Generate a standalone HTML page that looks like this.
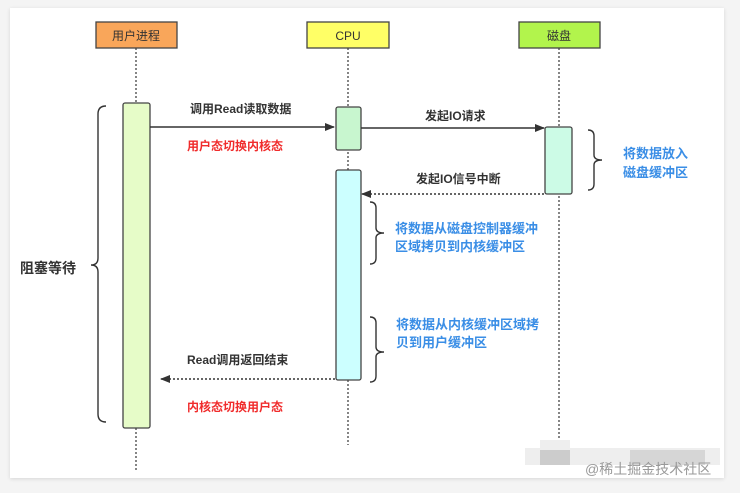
<!DOCTYPE html>
<html><head><meta charset="utf-8"><style>
body{margin:0;width:740px;height:493px;background:#f4f4f4;overflow:hidden;font-family:"Liberation Sans","Noto Sans CJK SC",sans-serif}
.card{position:absolute;left:10px;top:8px;width:714px;height:470px;background:#fff;box-shadow:0 1px 4px rgba(0,0,0,.12)}
</style></head><body>
<div class="card"></div>
<svg width="740" height="493" style="position:absolute;left:0;top:0" font-family="Liberation Sans, Noto Sans CJK SC, sans-serif">
<defs><marker id="a" markerWidth="10" markerHeight="8" refX="9" refY="4" orient="auto" markerUnits="userSpaceOnUse"><path d="M0,0L10,4L0,8z" fill="#333"/></marker></defs>
<g stroke="#444" stroke-width="1.3" stroke-dasharray="2,2">
<line x1="136" y1="48" x2="136" y2="470"/><line x1="348" y1="48" x2="348" y2="445"/><line x1="559" y1="48" x2="559" y2="438"/></g>
<g stroke="#444" stroke-width="1.3">
<rect x="96" y="22" width="81" height="26" fill="#f9a65a"/>
<rect x="307" y="22" width="82" height="26" fill="#ffff66"/>
<rect x="519" y="22" width="81" height="26" fill="#b2f44c"/>
<rect x="123" y="103" width="27" height="325" rx="2" fill="#e6fcc8"/>
<rect x="336" y="107" width="25" height="43" rx="2" fill="#c8f6cf"/>
<rect x="336" y="170" width="25" height="210" rx="2" fill="#ccffff"/>
<rect x="545" y="127" width="27" height="67" rx="2" fill="#ccfbe6"/>
</g>
<g font-size="12" text-anchor="middle" fill="#333"><text x="136" y="40">用户进程</text><text x="348" y="40">CPU</text><text x="559" y="40">磁盘</text></g>
<g stroke="#333" stroke-width="1.4">
<line x1="150" y1="127" x2="334" y2="127" marker-end="url(#a)"/>
<line x1="361" y1="128" x2="544" y2="128" marker-end="url(#a)"/>
<line x1="544" y1="194" x2="362" y2="194" stroke-dasharray="2,2" marker-end="url(#a)"/>
<line x1="335" y1="379" x2="161" y2="379" stroke-dasharray="2,2" marker-end="url(#a)"/>
</g>
<g font-size="12" font-weight="bold" fill="#333">
<text x="190" y="113">调用Read读取数据</text><text x="425" y="120">发起IO请求</text>
<text x="416" y="183">发起IO信号中断</text><text x="187" y="364">Read调用返回结束</text>
<text x="20" y="273" font-size="14">阻塞等待</text></g>
<g font-size="12" font-weight="bold" fill="#f02b2b"><text x="187" y="150">用户态切换内核态</text><text x="187" y="411">内核态切换用户态</text></g>
<g font-size="13" font-weight="bold" fill="#3a8ee6">
<text x="623" y="158">将数据放入</text><text x="623" y="177">磁盘缓冲区</text>
<text x="395" y="233">将数据从磁盘控制器缓冲</text><text x="395" y="251">区域拷贝到内核缓冲区</text>
<text x="396" y="329">将数据从内核缓冲区域拷</text><text x="396" y="347">贝到用户缓冲区</text></g>
<g fill="none" stroke="#333" stroke-width="1.4">
<path d="M106,106 Q98,106 98,114 L98,258 Q98,265 91,265 Q98,265 98,272 L98,414 Q98,422 106,422"/>
<path d="M588,130 Q594,130 594,136 L594,155 Q594,160 602,160 Q594,160 594,165 L594,184 Q594,190 588,190"/>
<path d="M370,202 Q376,202 376,208 L376,228 Q376,233 384,233 Q376,233 376,238 L376,258 Q376,264 370,264"/>
<path d="M370,317 Q376,317 376,323 L376,347 Q376,352 384,352 Q376,352 376,357 L376,376 Q376,382 370,382"/>
</g>
<rect x="525" y="448" width="195" height="17" fill="#eee"/>
<rect x="540" y="440" width="30" height="10" fill="#eee"/>
<rect x="540" y="450" width="30" height="15" fill="#ccc"/>
<rect x="630" y="450" width="75" height="15" fill="#d6d6d6"/>
<text x="585" y="474" font-size="14" fill="#999">@稀土掘金技术社区</text>
</svg>
</body></html>
